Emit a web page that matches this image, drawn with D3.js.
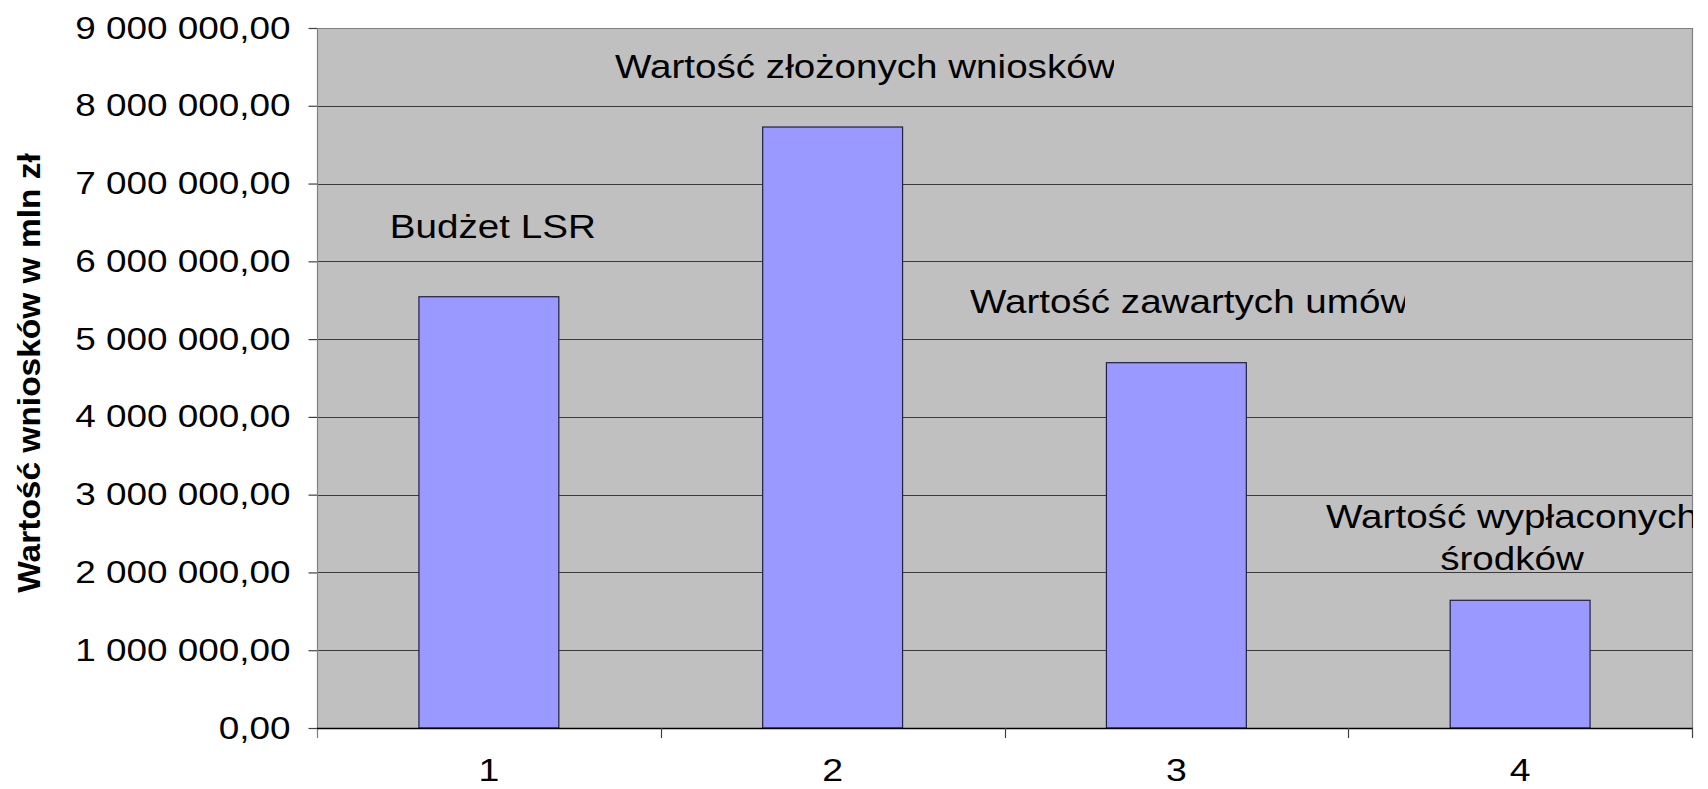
<!DOCTYPE html>
<html>
<head>
<meta charset="utf-8">
<script src="https://cdn.jsdelivr.net/npm/d3@7"></script>
<style>
  html, body { margin: 0; padding: 0; background: #ffffff; }
  svg { display: block; }
  text { font-family: "Liberation Sans", Arial, sans-serif; fill: #000; }
</style>
</head>
<body>
<svg id="chart" width="1708" height="789"></svg>
<script>
// ---- data ----
const categories = ["1", "2", "3", "4"];
const values = [5545000, 7727000, 4697000, 1642000];
const yTicks = [0, 1000000, 2000000, 3000000, 4000000, 5000000, 6000000, 7000000, 8000000, 9000000];
const yTitle = "Wartość wniosków w mln zł";
const annotationLines = [
  ["Budżet LSR"],
  ["Wartość złożonych wniosków"],
  ["Wartość zawartych umów"],
  ["Wartość wypłaconych", "środków"]
];

// ---- layout ----
const W = 1708, H = 789;
const plot = { left: 317, right: 1692, top: 28, bottom: 728 };
const svg = d3.select("#chart");

const x = d3.scaleBand().domain(categories).range([plot.left, plot.right]).padding(0);
const y = d3.scaleLinear().domain([0, 9000000]).range([plot.bottom, plot.top]);
const barFrac = 0.407;

const locale = d3.formatLocale({ decimal: ",", thousands: "\u00a0", grouping: [3], currency: ["", ""] });
const fmt = locale.format(",.2f");

// plot background
svg.append("rect")
  .attr("x", plot.left).attr("y", plot.top)
  .attr("width", plot.right - plot.left).attr("height", plot.bottom - plot.top)
  .attr("fill", "#c0c0c0");

// gridlines
svg.append("g").selectAll("line").data(yTicks.filter(d => d > 0)).join("line")
  .attr("x1", plot.left).attr("x2", plot.right)
  .attr("y1", d => Math.round(y(d)) + 0.5).attr("y2", d => Math.round(y(d)) + 0.5)
  .attr("stroke", d => d === 9000000 ? "#808080" : "#3c3c3c").attr("stroke-width", 1.2);

// right border
svg.append("line")
  .attr("x1", plot.right + 0.5).attr("x2", plot.right + 0.5)
  .attr("y1", plot.top).attr("y2", plot.bottom)
  .attr("stroke", "#808080").attr("stroke-width", 1.2);

// bars
svg.append("g").selectAll("rect").data(values).join("rect")
  .attr("x", (d, i) => x(categories[i]) + x.bandwidth() * (1 - barFrac) / 2)
  .attr("width", x.bandwidth() * barFrac)
  .attr("y", d => y(d))
  .attr("height", d => y(0) - y(d))
  .attr("fill", "#9999ff")
  .attr("stroke", "#202040").attr("stroke-width", 1.2);

// y axis
const ySx = 1.19;
const yAxis = svg.append("g")
  .attr("transform", `translate(${plot.left + 0.5},0)`)
  .call(d3.axisLeft(y).tickValues(yTicks).tickSize(9).tickFormat(fmt));
yAxis.select(".domain").remove();
yAxis.selectAll(".tick line").attr("stroke", "#404040").attr("stroke-width", 1.2);
yAxis.selectAll(".tick text")
  .attr("x", -27 / ySx).attr("y", 10).attr("dy", null)
  .attr("transform", `scale(${ySx},1)`)
  .attr("text-anchor", "end")
  .style("font-size", "31px");

// left axis line (extends to category tick length)
svg.append("line")
  .attr("x1", plot.left + 0.5).attr("x2", plot.left + 0.5)
  .attr("y1", plot.top).attr("y2", plot.bottom + 10)
  .attr("stroke", "#808080").attr("stroke-width", 1.2);

// x axis line
svg.append("line")
  .attr("x1", plot.left).attr("x2", plot.right + 1)
  .attr("y1", y(0) + 0.5).attr("y2", y(0) + 0.5)
  .attr("stroke", "#000").attr("stroke-width", 1.4);

// x category boundary ticks
const bounds = categories.map(c => x(c)).concat([x.range()[1]]);
svg.append("g").selectAll("line").data(bounds.slice(1)).join("line")
  .attr("x1", d => Math.round(d) + 0.5).attr("x2", d => Math.round(d) + 0.5)
  .attr("y1", y(0)).attr("y2", y(0) + 10)
  .attr("stroke", "#404040").attr("stroke-width", 1.2);

// x labels
const txtSx = 1.17;
svg.append("g").selectAll("text").data(categories).join("text")
  .attr("transform", d => `translate(${x(d) + x.bandwidth() / 2},781) scale(${txtSx},1)`)
  .attr("text-anchor", "middle")
  .style("font-size", "32px")
  .text(d => d);

// y title
svg.append("text")
  .attr("transform", `translate(40,373) rotate(-90) scale(1.08,1)`)
  .attr("text-anchor", "middle")
  .style("font-size", "31px").style("font-weight", "bold")
  .text(yTitle);

// annotations (text boxes; clipped at their box edges like the original)
const annLayout = [
  { cx: x(categories[0]) + x.bandwidth() / 2 + 4, base: 238, anchor: "middle", clip: null },
  { sx: 615, base: 78, anchor: "start", clip: 1114 },
  { sx: 970, base: 313, anchor: "start", clip: 1405 },
  { cx: 1512, base: 528, anchor: "middle", clip: plot.right + 1 }
];
const defs = svg.append("defs");
annotationLines.forEach((lines, i) => {
  const L = annLayout[i];
  const g = svg.append("g");
  if (L.clip !== null) {
    defs.append("clipPath").attr("id", "annclip" + i)
      .append("rect").attr("x", 0).attr("y", 0).attr("width", L.clip).attr("height", H);
    g.attr("clip-path", `url(#annclip${i})`);
  }
  lines.forEach((t, j) => {
    const px = L.anchor === "middle" ? L.cx : L.sx;
    g.append("text")
      .attr("transform", `translate(${px},${L.base + j * 42}) scale(${txtSx},1)`)
      .attr("text-anchor", L.anchor)
      .style("font-size", "33px")
      .text(t);
  });
});
</script>
</body>
</html>
